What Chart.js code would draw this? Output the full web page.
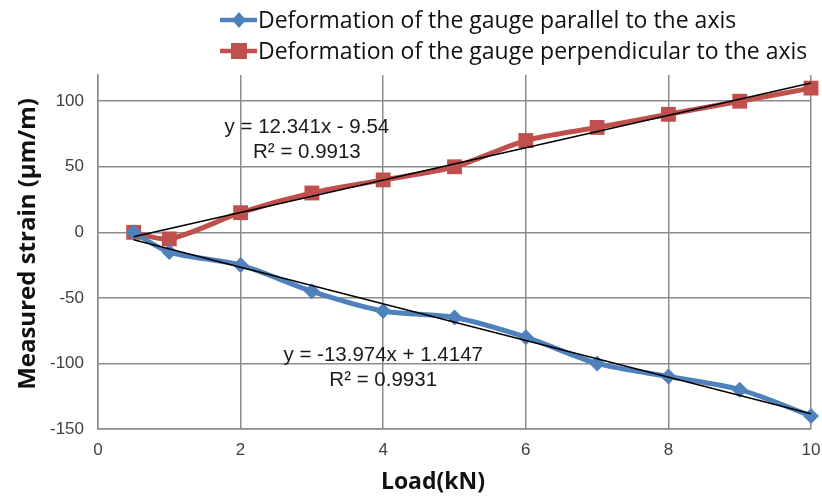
<!DOCTYPE html>
<html>
<head>
<meta charset="utf-8">
<script src="https://cdn.jsdelivr.net/npm/chart.js@4"></script>
<style>
  html, body { margin: 0; padding: 0; background: #fff; }
  #wrap { position: relative; width: 822px; height: 497px; }
</style>
</head>
<body>
<div id="wrap"><canvas id="chart" width="822" height="497"></canvas></div>
<script>
// load steps (kN)
const loads = [0.5, 1, 2, 3, 4, 5, 6, 7, 8, 9, 10];
const parallelStrain = [0, -15, -25, -45, -60, -65, -80, -100, -110, -120, -140];
const perpendicularStrain = [0, -5, 15, 30, 40, 50, 70, 80, 90, 100, 110];

// linear trend lines (end points)
const trendX = [0.5, 10];
const parallelTrend = [-5.6, -138.3];
const perpendicularTrend = [-3.4, 113.9];

const xTicks = [0, 2, 4, 6, 8, 10];
const yTicks = [-150, -100, -50, 0, 50, 100];

const seriesNames = [
    'Deformation of the gauge parallel to the axis',
    'Deformation of the gauge perpendicular to the axis'
];
const equations = [
    { lines: ['y = -13.974x + 1.4147', 'R\u00b2 = 0.9931'], x: 4.0, y: -94 },
    { lines: ['y = 12.341x - 9.54', 'R\u00b2 = 0.9913'], x: 2.93, y: 80 }
];

const BLUE = '#4f81bd';
const RED = '#c0504d';
const GRID = '#8c8c8c';

const toPoints = (xs, ys) => xs.map((x, i) => ({ x, y: ys[i] }));

// legend, equations and axis titles
const overlay = {
    id: 'overlay',
    afterDraw(chart) {
        const ctx = chart.ctx;
        const { x, y } = chart.scales;
        ctx.save();

        // trend equations
        ctx.fillStyle = '#1a1a1a';
        ctx.font = '20.5px "Liberation Sans", Arial, sans-serif';
        ctx.textAlign = 'center';
        ctx.textBaseline = 'middle';
        equations.forEach(eq => {
            const px = x.getPixelForValue(eq.x);
            const py = y.getPixelForValue(eq.y);
            ctx.fillText(eq.lines[0], px, py);
            ctx.fillText(eq.lines[1], px, py + 25);
        });

        // legend
        ctx.font = '23px "Open Sans", sans-serif';
        ctx.textAlign = 'left';
        const rows = [20, 51];
        [BLUE, RED].forEach((col, i) => {
            const ly = rows[i];
            ctx.strokeStyle = col;
            ctx.lineWidth = 4.5;
            ctx.beginPath();
            ctx.moveTo(220, ly);
            ctx.lineTo(257, ly);
            ctx.stroke();
            ctx.fillStyle = col;
            if (i === 0) {
                ctx.beginPath();
                ctx.moveTo(239, ly - 8);
                ctx.lineTo(246, ly);
                ctx.lineTo(239, ly + 8);
                ctx.lineTo(232, ly);
                ctx.closePath();
                ctx.fill();
            } else {
                ctx.fillRect(231, ly - 8, 16, 16);
            }
            ctx.fillStyle = '#111';
            ctx.fillText(seriesNames[i], 258, ly + 1);
        });

        // axis titles
        ctx.font = 'bold 23px "Open Sans", sans-serif';
        ctx.textAlign = 'center';
        ctx.fillText('Load(kN)', 433, 482);
        ctx.font = 'bold 24px "Open Sans", sans-serif';
        ctx.translate(28, 244);
        ctx.rotate(-Math.PI / 2);
        ctx.fillText('Measured strain (\u00b5m/m)', 0, 0);
        ctx.restore();
    }
};

new Chart(document.getElementById('chart'), {
    type: 'line',
    data: {
        datasets: [
            {
                label: seriesNames[0],
                data: toPoints(loads, parallelStrain),
                borderColor: BLUE,
                backgroundColor: BLUE,
                borderWidth: 5,
                tension: 0.3,
                pointStyle: 'rectRot',
                pointRadius: 8,
                pointBorderWidth: 0,
                order: 2
            },
            {
                label: seriesNames[1],
                data: toPoints(loads, perpendicularStrain),
                borderColor: RED,
                backgroundColor: RED,
                borderWidth: 5,
                tension: 0.3,
                pointStyle: 'rect',
                pointRadius: 10.5,
                pointBorderWidth: 0,
                order: 2
            },
            {
                label: 'trend parallel',
                data: toPoints(trendX, parallelTrend),
                borderColor: '#000',
                borderWidth: 1.5,
                pointRadius: 0,
                order: 1
            },
            {
                label: 'trend perpendicular',
                data: toPoints(trendX, perpendicularTrend),
                borderColor: '#000',
                borderWidth: 1.5,
                pointRadius: 0,
                order: 1
            }
        ]
    },
    options: {
        responsive: false,
        animation: false,
        clip: false,
        layout: { padding: { top: 75, right: 0, left: 0, bottom: 0 } },
        plugins: {
            legend: { display: false },
            tooltip: { enabled: false }
        },
        scales: {
            x: {
                type: 'linear',
                min: 0,
                max: 10,
                afterFit: s => { s.height = 68; s.paddingRight = 11; s.paddingLeft = 0; },
                afterBuildTicks: s => { s.ticks = xTicks.map(v => ({ value: v })); },
                grid: { color: GRID, lineWidth: 1.5, drawTicks: false },
                border: { color: GRID, width: 1.5 },
                ticks: {
                    padding: 11,
                    color: '#404040',
                    font: { family: '"Liberation Sans", Arial, sans-serif', size: 17 },
                    maxRotation: 0
                }
            },
            y: {
                min: -150,
                max: 120,
                afterFit: s => { s.width = 98; },
                afterBuildTicks: s => { s.ticks = yTicks.map(v => ({ value: v })); },
                grid: { color: GRID, lineWidth: 1.5, drawTicks: false },
                border: { color: GRID, width: 1.5 },
                ticks: {
                    padding: 14,
                    color: '#404040',
                    font: { family: '"Liberation Sans", Arial, sans-serif', size: 17 }
                }
            }
        }
    },
    plugins: [overlay]
});
</script>
</body>
</html>
